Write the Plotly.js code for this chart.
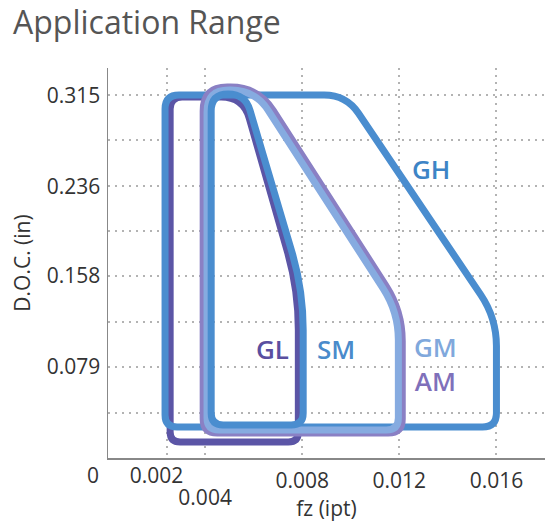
<!DOCTYPE html>
<html><head><meta charset="utf-8">
<script src="https://cdn.plot.ly/plotly-3.0.1.min.js"></script>
<style>html,body{margin:0;padding:0;background:#fff}#chart{width:550px;height:532px}</style>
</head><body><div id="chart"></div>
<script>
// ---------- data ----------
// each range outline: corners in order bottom-left, top-left, top-right, right bend, bottom-right
const glFz  = [0.00256, 0.00256, 0.00557, 0.00784, 0.00784];
const glDoc = [0.0139, 0.3134, 0.3134, 0.1458, 0.0139];
const ghFz  = [0.00235, 0.00235, 0.00981, 0.0160, 0.0160];
const ghDoc = [0.0269, 0.3151, 0.3151, 0.1215, 0.0269];
const amFz  = [0.00392, 0.00392, 0.00619, 0.01212, 0.01212];
const amDoc = [0.0217, 0.3220, 0.3220, 0.1276, 0.0217];
const gmFz  = [0.00408, 0.00408, 0.00606, 0.01196, 0.01196];
const gmDoc = [0.0243, 0.3194, 0.3194, 0.1267, 0.0243];
const smFz  = [0.00425, 0.00425, 0.00565, 0.00804, 0.00804];
const smDoc = [0.0286, 0.3160, 0.3160, 0.1458, 0.0286];

const xGridVals = [0.00243, 0.004, 0.008, 0.012, 0.016];
const xGridText = ['', '', '0.008', '0.012', '0.016'];
const xTickVals2 = [0.002];
const xTickText2 = ['0.002'];
const xTickVals3 = [0.004];
const xTickText3 = ['0.004'];
const yGridVals = [0.0395, 0.079, 0.1185, 0.158, 0.1975, 0.236, 0.2765, 0.315];
const yGridText = ['', '0.079', '', '0.158', '', '0.236', '', '0.315'];

// range labels; GM and AM share one stacked label
const labelNames = [['GL'], ['SM'], ['GM', 'AM'], ['GH']];
const labelFz  = [0.00676, 0.0094, 0.01348, 0.01332];
const labelDoc = [0.0946, 0.0946, 0.0816, 0.2509];

// ---------- styles ----------
const X_RANGE = [0, 0.018], Y_RANGE = [0, 0.3386];
const MARGIN = {l: 108, r: 5, t: 68, b: 74};
const W = 550, H = 532;
const PW = W - MARGIN.l - MARGIN.r, PH = H - MARGIN.t - MARGIN.b;
const sx = PW / (X_RANGE[1] - X_RANGE[0]), sy = PH / (Y_RANGE[1] - Y_RANGE[0]);

const outlines = [
  {fz: glFz, doc: glDoc, color: '#5b55a6', radii: [10, 12, 22, 40, 10]},
  {fz: ghFz, doc: ghDoc, color: '#4a8dcf', radii: [12, 14, 22, 28, 14]},
  {fz: amFz, doc: amDoc, color: '#8a80c4', radii: [14, 24, 32, 30, 14]},
  {fz: gmFz, doc: gmDoc, color: '#86abe0', radii: [12, 22, 30, 28, 12]},
  {fz: smFz, doc: smDoc, color: '#4a8dcf', radii: [12, 20, 24, 40, 12]}
];
const labelColors = {GL: '#5a4fa0', SM: '#4a8bcb', GM: '#80a8dc', AM: '#7f70ba', GH: '#3d84c6'};

// rounded-corner path in data coordinates (corner radius given in pixels)
function roundedPath(xs, ys, radii) {
  const n = xs.length;
  const P = xs.map((x, i) => [x * sx, ys[i] * sy]);
  const f = p => (p[0] / sx).toFixed(7) + ',' + (p[1] / sy).toFixed(7);
  const c = [];
  for (let i = 0; i < n; i++) {
    const v = P[i], a = P[(i - 1 + n) % n], b = P[(i + 1) % n];
    const da = [a[0] - v[0], a[1] - v[1]], db = [b[0] - v[0], b[1] - v[1]];
    const la = Math.hypot(da[0], da[1]), lb = Math.hypot(db[0], db[1]);
    const r = Math.min(radii[i], la / 2, lb / 2);
    c.push({A: [v[0] + da[0] / la * r, v[1] + da[1] / la * r], V: v,
            B: [v[0] + db[0] / lb * r, v[1] + db[1] / lb * r]});
  }
  let s = 'M' + f(c[0].B);
  for (let k = 1; k <= n; k++) {
    const q = c[k % n];
    s += ' L' + f(q.A) + ' Q' + f(q.V) + ' ' + f(q.B);
  }
  return s + ' Z';
}

const shapes = outlines.map(o => ({
  type: 'path', xref: 'x', yref: 'y', layer: 'above',
  path: roundedPath(o.fz, o.doc, o.radii),
  line: {color: o.color, width: 7}, fillcolor: 'rgba(0,0,0,0)'
}));

const annotations = labelNames.map((names, i) => ({
  x: labelFz[i], y: labelDoc[i], xref: 'x', yref: 'y', showarrow: false,
  text: names.map(t => '<span style="color:' + labelColors[t] + '">' + t + '</span>').join('<br>'),
  font: {family: 'Open Sans, sans-serif', size: 26, weight: 600, color: labelColors[names[0]]}
}));
annotations.push({
  x: 0, y: 0, xref: 'x', yref: 'y', text: '0', showarrow: false,
  xshift: -15, yshift: -17, font: {family: 'Open Sans, sans-serif', size: 21, color: '#333'}
});

const gridStyle = {gridcolor: '#b3b3b3', gridwidth: 2, griddash: '2px,5px'};
const tickFont = {family: 'Open Sans, sans-serif', size: 21, color: '#333'};

const data = [
  {type: 'scatter', x: [], y: [], xaxis: 'x', yaxis: 'y', hoverinfo: 'skip', showlegend: false},
  {type: 'scatter', x: [], y: [], xaxis: 'x2', yaxis: 'y', hoverinfo: 'skip', showlegend: false},
  {type: 'scatter', x: [], y: [], xaxis: 'x3', yaxis: 'y', hoverinfo: 'skip', showlegend: false}
];

const layout = {
  width: W, height: H, margin: MARGIN,
  paper_bgcolor: '#fff', plot_bgcolor: '#fff', showlegend: false,
  font: {family: 'Open Sans, sans-serif', color: '#333'},
  title: {text: 'Application Range', xref: 'container', x: 13 / W, xanchor: 'left',
          yref: 'container', y: 1 - 23 / H, yanchor: 'middle',
          font: {family: 'Open Sans, sans-serif', size: 32, color: '#555'}},
  xaxis: Object.assign({
    range: X_RANGE, tickmode: 'array', tickvals: xGridVals, ticktext: xGridText,
    ticks: '', showgrid: true, zeroline: false, showline: true, linecolor: '#888', linewidth: 1.5,
    tickfont: tickFont, ticklabelstandoff: 3, fixedrange: true,
    title: {text: 'fz (ipt)', font: {family: 'Open Sans, sans-serif', size: 21, color: '#333'}, standoff: 6}
  }, gridStyle),
  xaxis2: {
    overlaying: 'x', anchor: 'y', side: 'bottom', range: X_RANGE, tickmode: 'array',
    tickvals: xTickVals2, ticktext: xTickText2, ticks: '', showgrid: false, zeroline: false,
    showline: false, tickfont: tickFont, ticklabelstandoff: 3, fixedrange: true
  },
  xaxis3: {
    overlaying: 'x', anchor: 'y', side: 'bottom', range: X_RANGE, tickmode: 'array',
    tickvals: xTickVals3, ticktext: xTickText3, ticks: '', showgrid: false, zeroline: false,
    showline: false, tickfont: tickFont, ticklabelstandoff: 25, fixedrange: true
  },
  yaxis: Object.assign({
    range: Y_RANGE, tickmode: 'array', tickvals: yGridVals, ticktext: yGridText,
    ticks: '', showgrid: true, zeroline: false, showline: true, linecolor: '#888', linewidth: 1.5,
    tickfont: tickFont, ticklabelstandoff: 2, fixedrange: true,
    title: {text: 'D.O.C. (in)', font: {family: 'Open Sans, sans-serif', size: 21, color: '#333'}, standoff: 10}
  }, gridStyle),
  shapes: shapes,
  annotations: annotations
};

Plotly.newPlot('chart', data, layout, {displayModeBar: false, staticPlot: true});
</script>
</body></html>
